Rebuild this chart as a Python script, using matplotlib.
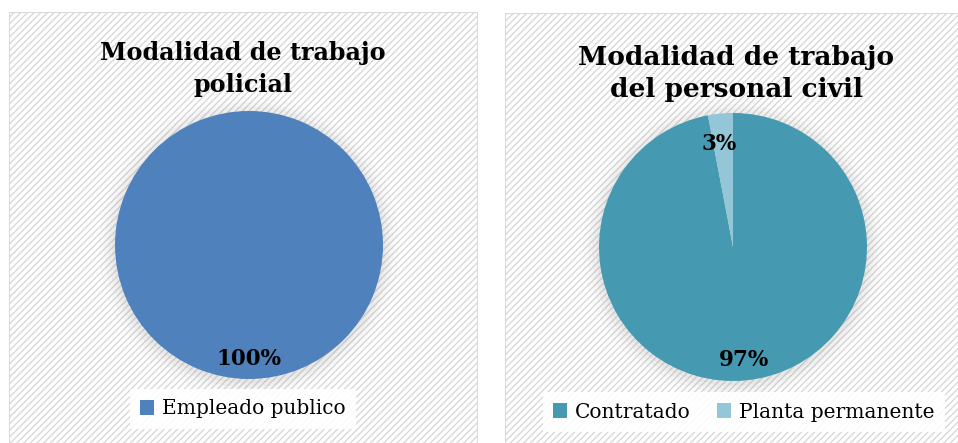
import matplotlib
matplotlib.use("Agg")
import matplotlib.pyplot as plt
from matplotlib.patches import Rectangle, Circle

# datos
pol_labels = ["Empleado publico"]
pol_values = [100]
civ_labels = ["Contratado", "Planta permanente"]
civ_values = [97, 3]

pol_colors = ["#4F81BD"]
civ_colors = ["#4599B0", "#93C6D6"]

plt.rcParams['font.family'] = ['DejaVu Serif']
plt.rcParams['hatch.color'] = "#F5F5F5"
plt.rcParams['hatch.linewidth'] = 1.0

fig = plt.figure(figsize=(9.58, 4.43), dpi=100)
W, H = 958, 443


def px(x0, y0, x1, y1):
    # caja en pixeles (arriba-izquierda) -> fracciones de figura
    return [x0 / W, 1 - y1 / H, (x1 - x0) / W, (y1 - y0) / H]


def panel(box):
    ax = fig.add_axes(px(*box))
    ax.set_xlim(0, 1)
    ax.set_ylim(0, 1)
    ax.axis("off")
    ax.add_patch(Rectangle((0, 0), 1, 1, facecolor="white", edgecolor="#D9D9D9",
                           linewidth=1.5, hatch="/////", transform=ax.transAxes))
    return ax


panel((9, 12, 478, 445))
panel((505, 13, 960, 445))


def draw_pie(box, values, colors, fmt):
    ax = fig.add_axes(px(*box))
    # sombra suave
    for r, a in [(1.12, 0.03), (1.08, 0.04), (1.05, 0.05), (1.02, 0.06)]:
        ax.add_patch(Circle((0, -0.015), r, color="#808080", alpha=a, lw=0))
    wedges, texts, autotexts = ax.pie(values, colors=colors, startangle=90,
                                      counterclock=False, autopct=fmt,
                                      pctdistance=0.85, radius=1.0,
                                      wedgeprops=dict(linewidth=0),
                                      textprops=dict(fontsize=15.5, fontweight="bold",
                                                     color="black"))
    ax.set_xlim(-1.15, 1.15)
    ax.set_ylim(-1.15, 1.15)
    ax.set_aspect("equal")
    ax.axis("off")
    return ax, wedges, autotexts


s = 1.15
_, w1, at1 = draw_pie((249 - 134 * s, 245 - 134 * s, 249 + 134 * s, 245 + 134 * s),
                      pol_values, pol_colors, "%1.0f%%")
_, w2, at2 = draw_pie((733 - 134 * s, 247 - 134 * s, 733 + 134 * s, 247 + 134 * s),
                      civ_values, civ_colors, "%1.0f%%")
at2[1].set_position((-0.1, 0.77))

fig.text(243 / W, 1 - 69 / H, "Modalidad de trabajo\npolicial", ha="center", va="center",
         fontsize=17.2, fontweight="bold", linespacing=1.45)
fig.text(736 / W, 1 - 73.5 / H, "Modalidad de trabajo\ndel personal civil", ha="center",
         va="center", fontsize=19, fontweight="bold", linespacing=1.4)

leg_kw = dict(frameon=True, fancybox=False, edgecolor="none", facecolor="white",
              framealpha=0.9, fontsize=14.5, handlelength=0.7, handleheight=0.7,
              handletextpad=0.4, borderpad=0.5, loc="center")
fig.legend(w1, pol_labels, bbox_to_anchor=(243 / W, 1 - 409 / H), **leg_kw)
fig.legend(w2, civ_labels, bbox_to_anchor=(744 / W, 1 - 412 / H), ncol=2,
           columnspacing=1.3, **leg_kw)

fig.savefig("out.png", dpi=100)
